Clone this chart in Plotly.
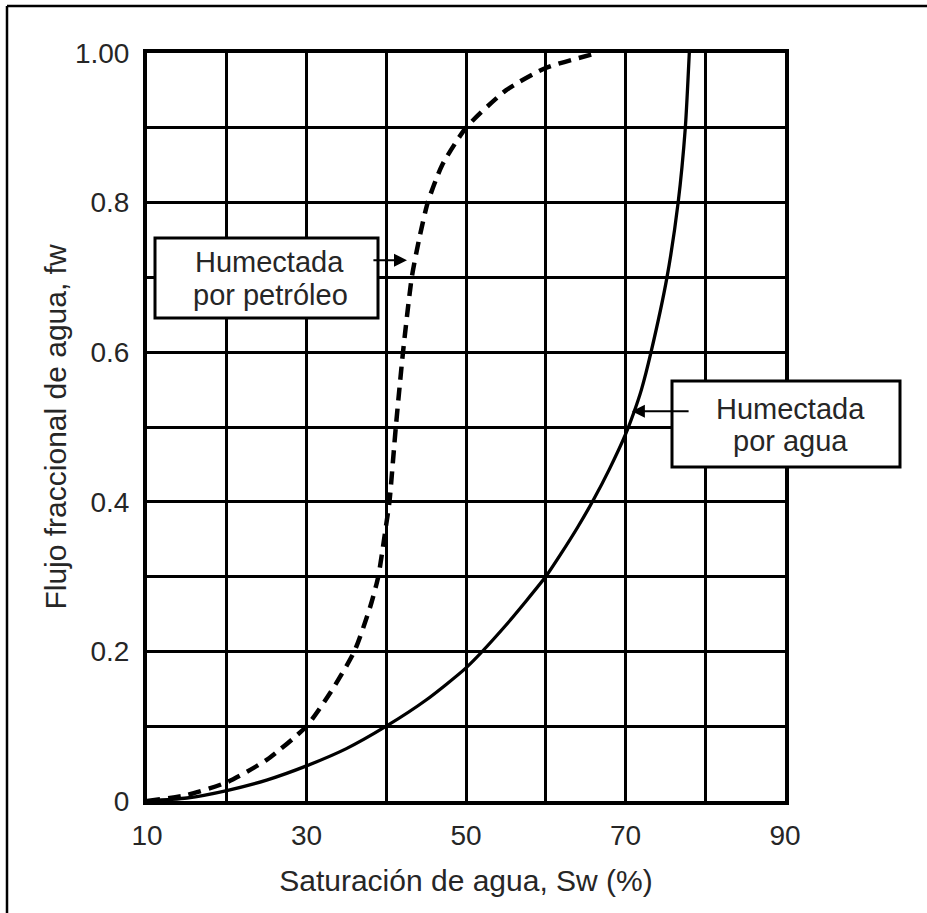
import plotly.graph_objects as go

# ---- data ----
sw_agua = [10, 15, 20, 25, 30, 35, 40, 45, 50, 55, 60, 62, 64, 66, 68, 70, 71, 72, 73.2, 75.2, 76.6, 77.5, 78]
fw_agua = [0, 0.004, 0.014, 0.028, 0.047, 0.07, 0.1, 0.135, 0.178, 0.235, 0.3, 0.332, 0.366, 0.403, 0.444, 0.49, 0.518, 0.55, 0.6, 0.7, 0.8, 0.9, 1.0]

sw_petroleo = [10, 15, 20, 25, 30, 33, 36, 38, 39, 40, 40.4, 41.2, 42.1, 43.2, 44.1, 45.2, 47, 50, 55, 60, 66.5]
fw_petroleo = [0, 0.008, 0.025, 0.055, 0.1, 0.145, 0.2, 0.26, 0.3, 0.37, 0.4, 0.5, 0.6, 0.7, 0.75, 0.8, 0.85, 0.9, 0.95, 0.98, 1.0]

x_ticks = [10, 30, 50, 70, 90]
x_minor = [20, 40, 60, 80]
y_ticks = [0, 0.2, 0.4, 0.6, 0.8, 1.0]
y_ticktext = ["0", "0.2", "0.4", "0.6", "0.8", "1.00"]
y_minor = [0.1, 0.3, 0.5, 0.7, 0.9]

W, H = 927, 913
L, R, T, B = 147, 785, 53, 801  # plot area in pixels


def px(xp):
    return (xp - L) / (R - L)


def py(yp):
    return (B - yp) / (B - T)


FONT = "Liberation Sans, Arial, sans-serif"
TXT = "#262626"

fig = go.Figure()
fig.add_trace(go.Scatter(x=sw_agua, y=fw_agua, mode="lines",
                         line=dict(color="black", width=3.3, shape="spline", smoothing=0.6),
                         showlegend=False, hoverinfo="skip"))
fig.add_trace(go.Scatter(x=sw_petroleo, y=fw_petroleo, mode="lines",
                         line=dict(color="black", width=4.5, dash="13px,8px", shape="spline", smoothing=0.6),
                         showlegend=False, hoverinfo="skip"))

axis_common = dict(
    showgrid=True, gridcolor="black", gridwidth=3,
    showline=True, linecolor="black", linewidth=4, mirror=True,
    zeroline=False, ticks="", tickfont=dict(family=FONT, size=28, color=TXT),
)

fig.update_xaxes(range=[10, 90], tickvals=x_ticks, ticktext=[str(v) for v in x_ticks],
                 minor=dict(tickvals=x_minor, showgrid=True, gridcolor="black", gridwidth=3),
                 ticklabelstandoff=6,
                 title=dict(text="Saturación de agua, Sw (%)", font=dict(family=FONT, size=30, color=TXT), standoff=21),
                 **axis_common)
fig.update_yaxes(range=[0, 1.0], tickvals=y_ticks, ticktext=y_ticktext,
                 minor=dict(tickvals=y_minor, showgrid=True, gridcolor="black", gridwidth=3),
                 ticklabelstandoff=8,
                 title=dict(text="Flujo fraccional de agua, fw", font=dict(family=FONT, size=30, color=TXT), standoff=0),
                 **axis_common)

shapes = [
    # outer border (top and left)
    dict(type="line", xref="paper", yref="paper", x0=px(7), x1=px(927), y0=py(6), y1=py(6),
         line=dict(color="black", width=2.5)),
    dict(type="line", xref="paper", yref="paper", x0=px(7), x1=px(7), y0=py(6), y1=py(913),
         line=dict(color="black", width=2.5)),
    # label boxes
    dict(type="rect", xref="paper", yref="paper", x0=px(155), x1=px(378), y0=py(318), y1=py(238),
         line=dict(color="black", width=3), fillcolor="white", layer="above"),
    dict(type="rect", xref="paper", yref="paper", x0=px(672), x1=px(900), y0=py(467), y1=py(381),
         line=dict(color="black", width=3), fillcolor="white", layer="above"),
]

ann_font = dict(family=FONT, size=29, color=TXT)
annotations = [
    dict(xref="paper", yref="paper", x=px(269), y=py(262), text="Humectada", showarrow=False,
         font=ann_font, xanchor="center", yanchor="middle"),
    dict(xref="paper", yref="paper", x=px(270), y=py(295), text="por petróleo", showarrow=False,
         font=ann_font, xanchor="center", yanchor="middle"),
    dict(xref="paper", yref="paper", x=px(790), y=py(409), text="Humectada", showarrow=False,
         font=ann_font, xanchor="center", yanchor="middle"),
    dict(xref="paper", yref="paper", x=px(790), y=py(441), text="por agua", showarrow=False,
         font=ann_font, xanchor="center", yanchor="middle"),
    # arrows
    dict(xref="x", yref="y", axref="x", ayref="y", x=42.6, y=0.723, ax=38.2, ay=0.723, text="",
         showarrow=True, arrowhead=2, arrowsize=1.3, arrowwidth=2, arrowcolor="black"),
    dict(xref="x", yref="y", axref="x", ayref="y", x=70.8, y=0.521, ax=78.1, ay=0.521, text="",
         showarrow=True, arrowhead=2, arrowsize=1.3, arrowwidth=2, arrowcolor="black"),
]

fig.update_layout(
    width=W, height=H,
    margin=dict(l=L, r=W - R, t=T, b=H - B, autoexpand=False),
    paper_bgcolor="white", plot_bgcolor="white",
    shapes=shapes, annotations=annotations,
    font=dict(family=FONT, color=TXT),
)

fig.write_html("out.html")
